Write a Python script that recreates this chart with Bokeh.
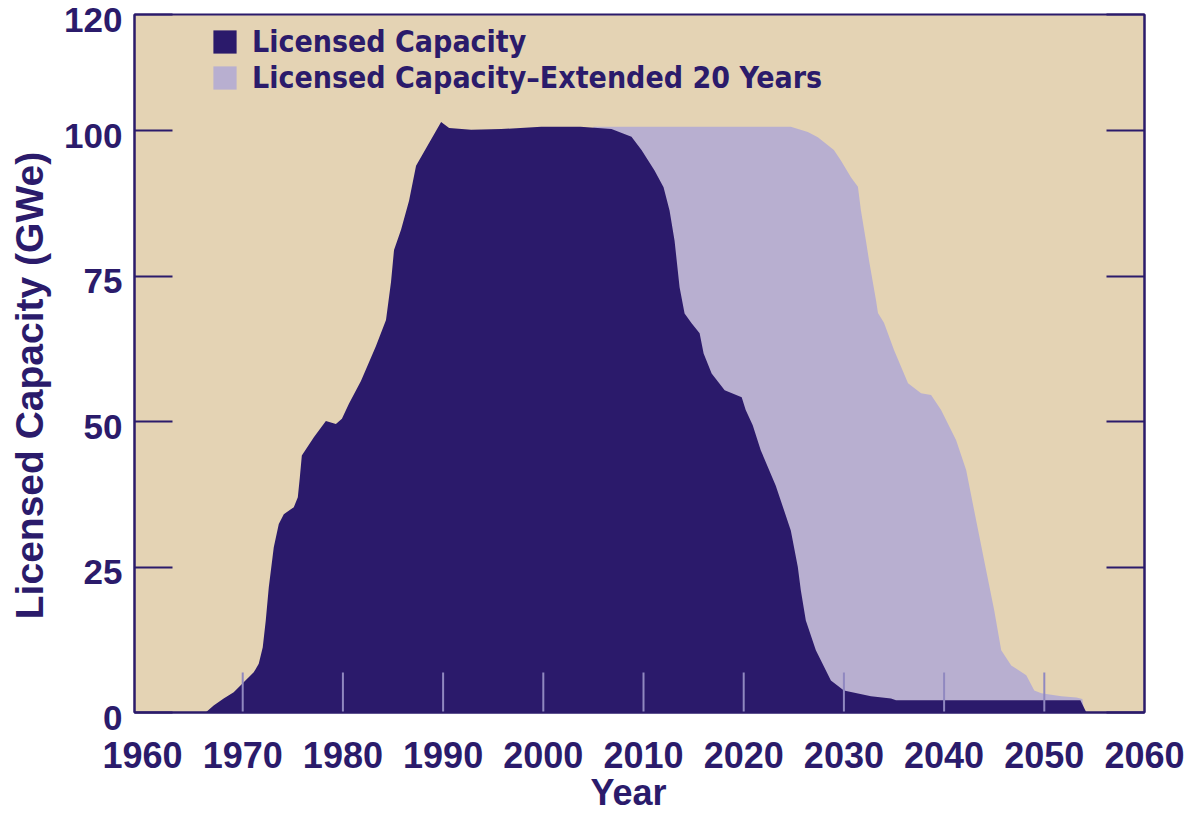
from math import pi
from bokeh.plotting import figure
from bokeh.models import Legend, LegendItem, FixedTicker, LinearAxis, Range1d
from bokeh.core.properties import value
from bokeh.embed import file_html
from bokeh.resources import INLINE

# ---- data ----
lic_years = [1966.3, 1967.1, 1968.1, 1969.1, 1970.1, 1971.1, 1971.6, 1972.0, 1972.3,
             1972.6, 1973.1, 1973.6, 1974.1, 1975.1, 1975.5, 1975.7, 1975.9, 1977.1,
             1978.3, 1979.3, 1979.9, 1980.6, 1981.8, 1983.3, 1984.3, 1984.8, 1985.1,
             1985.8, 1986.6, 1987.3, 1988.3, 1989.3, 1989.8, 1990.6, 1992.8, 1995.8,
             1999.8, 2003.7, 2006.8, 2008.8, 2009.8, 2011.1, 2012.0, 2012.6, 2013.1,
             2013.6, 2014.1, 2014.8, 2015.6, 2016.0, 2016.8, 2018.1, 2019.8, 2020.2,
             2020.9, 2021.7, 2023.2, 2024.7, 2025.4, 2025.7, 2026.2, 2027.2, 2028.7,
             2030.0, 2032.7, 2034.7, 2035.2, 2053.6, 2054.2]
lic_values = [0.0, 1.2, 2.4, 3.5, 5.2, 6.9, 8.4, 11.2, 15.8,
              21.5, 28.4, 32.4, 34.1, 35.3, 37.0, 40.4, 44.2, 47.3,
              50.1, 49.6, 50.5, 53.1, 57.0, 63.0, 67.5, 74.0, 79.5,
              83.0, 88.0, 94.0, 97.0, 100.0, 101.5, 100.5, 100.2, 100.3,
              100.7, 100.7, 100.3, 99.0, 96.7, 93.2, 90.3, 86.3, 81.1,
              73.1, 68.6, 66.9, 65.2, 61.7, 58.3, 55.4, 54.2, 52.0,
              49.4, 45.1, 39.0, 31.3, 25.0, 21.0, 15.8, 10.7, 5.5,
              3.8, 2.8, 2.4, 2.1, 2.1, 0.0]

ext_years = [2005.0, 2024.7, 2026.4, 2027.4, 2029.0, 2029.7, 2030.7, 2031.4, 2031.7,
             2032.2, 2032.5, 2033.2, 2033.4, 2034.0, 2035.0, 2036.4, 2037.7, 2038.7,
             2039.7, 2041.2, 2042.2, 2043.2, 2044.2, 2045.0, 2045.7, 2046.7, 2048.2,
             2049.0, 2049.7, 2051.7, 2053.2, 2053.8, 2054.0]
ext_values = [100.7, 100.7, 99.8, 98.9, 96.7, 94.9, 92.0, 90.4, 86.3,
              81.1, 77.8, 70.9, 68.7, 67.0, 62.3, 56.6, 54.9, 54.6,
              52.0, 46.8, 41.7, 33.0, 24.4, 17.6, 10.7, 8.1, 6.4,
              3.8, 3.3, 2.8, 2.6, 2.3, 0.0]

x_ticks = [1960, 1970, 1980, 1990, 2000, 2010, 2020, 2030, 2040, 2050, 2060]
inner_x_ticks = [1970, 1980, 1990, 2000, 2010, 2020, 2030, 2040, 2050]
y_ticks = [0, 25, 50, 75, 100, 120]
y_tick_labels = ["0", "25", "50", "75", "100", "120"]
series_labels = ["Licensed Capacity", "Licensed Capacity\u2013Extended 20 Years"]
x_title = "Year"
y_title = "Licensed Capacity (GWe)"

# ---- styles / layout ----
DARK = "#2B1A6B"
LIGHT = "#B8AFD0"
TAN = "#E4D3B4"
NAVY = "#2B1B6B"
TICK_LIGHT = "#9088C0"
NUM_FONT = "Liberation Sans, Arial, Helvetica, sans-serif"
NARROW_FONT = "Liberation Sans Narrow, DejaVu Sans Condensed, Arial Narrow, sans-serif"

W, H = 1197, 815
F_LEFT, F_RIGHT, F_TOP, F_BOTTOM = 134, 1144, 14, 712     # plot area in pixels
X0, X1, Y0, Y1 = 1959.2, 2060.0, 0.0, 120.0               # plot area in data units
XPX = (F_RIGHT - F_LEFT) / (X1 - X0)
YPX = (F_BOTTOM - F_TOP) / (Y1 - Y0)


def data_x(px):
    return X0 + (px - F_LEFT) / XPX


def data_y(py):
    return Y0 + (F_BOTTOM - py) / YPX


# the frame spans the whole canvas; axes are pinned to the plot-area edges
p = figure(width=W, height=H,
           x_range=Range1d(data_x(0), data_x(W)), y_range=Range1d(data_y(H), data_y(0)),
           output_backend="svg", toolbar_location=None, min_border=0,
           background_fill_color="white", border_fill_color="white")
p.xgrid.visible = False
p.ygrid.visible = False
p.outline_line_color = None

# plot-area background and border
p.quad(left=[X0], right=[X1], bottom=[Y0], top=[Y1],
       fill_color=TAN, line_color=NAVY, line_width=2)

light = p.varea(x=ext_years, y1=0, y2=ext_values, fill_color=LIGHT)
dark = p.varea(x=lic_years, y1=0, y2=lic_values, fill_color=DARK)

# inner decade ticks (light lines drawn over the fill)
tick_len = 40 / YPX
p.segment(x0=inner_x_ticks, y0=[Y0] * len(inner_x_ticks),
          x1=inner_x_ticks, y1=[Y0 + tick_len] * len(inner_x_ticks),
          line_color=TICK_LIGHT, line_width=2)

xa = p.xaxis[0]
xa.fixed_location = Y0
xa.bounds = (X0, X1)
xa.ticker = FixedTicker(ticks=x_ticks)
xa.major_tick_in = 0
xa.major_tick_out = 0
xa.minor_tick_line_color = None
xa.axis_line_color = NAVY
xa.axis_line_width = 2
xa.major_label_text_font = NUM_FONT
xa.major_label_text_font_style = "bold"
xa.major_label_text_font_size = "36px"
xa.major_label_text_color = NAVY
xa.major_label_standoff = 29

ya = p.yaxis[0]
ya.fixed_location = X0
ya.bounds = (Y0, Y1)
ya.ticker = FixedTicker(ticks=y_ticks)
ya.major_tick_in = 38
ya.major_tick_out = 0
ya.major_tick_line_color = NAVY
ya.major_tick_line_width = 2
ya.minor_tick_line_color = None
ya.axis_line_color = NAVY
ya.axis_line_width = 2
ya.major_label_overrides = {t: "" for t in y_ticks}
ya.major_label_standoff = 0

ra = LinearAxis(fixed_location=X1, bounds=(Y0, Y1),
                ticker=FixedTicker(ticks=y_ticks),
                major_label_overrides={t: "" for t in y_ticks},
                major_tick_in=38, major_tick_out=0,
                major_tick_line_color=NAVY, major_tick_line_width=2,
                minor_tick_line_color=None, axis_line_color=NAVY,
                axis_line_width=2, major_label_standoff=0)
p.add_layout(ra, "right")

# y tick labels (set a little below their ticks, as in the source)
p.text(x=[data_x(F_LEFT - 12)] * len(y_ticks), y=[t - 5 / YPX for t in y_ticks],
       text=y_tick_labels, text_font=value(NUM_FONT), text_font_style="bold",
       text_font_size="35px", text_color=NAVY,
       text_align="right", text_baseline="middle")

# axis titles
p.text(x=[data_x(29)], y=[data_y(385)], text=[y_title], angle=pi / 2,
       text_font=value(NUM_FONT), text_font_style="bold", text_font_size="39px",
       text_color=NAVY, text_align="center", text_baseline="middle")
p.text(x=[data_x(628)], y=[data_y(792)], text=[x_title],
       text_font=value(NUM_FONT), text_font_style="bold", text_font_size="36px",
       text_color=NAVY, text_align="center", text_baseline="middle")

legend = Legend(items=[LegendItem(label=series_labels[0], renderers=[dark]),
                       LegendItem(label=series_labels[1], renderers=[light])],
                location=(210, 720), glyph_width=29, glyph_height=29,
                label_standoff=13, label_height=36, spacing=0, padding=0, margin=0,
                label_text_font=NARROW_FONT, label_text_font_style="bold",
                label_text_font_size="30px", label_text_color=NAVY,
                background_fill_alpha=0, border_line_color=None)
p.add_layout(legend)

open("out.html", "w").write(file_html(p, INLINE))
